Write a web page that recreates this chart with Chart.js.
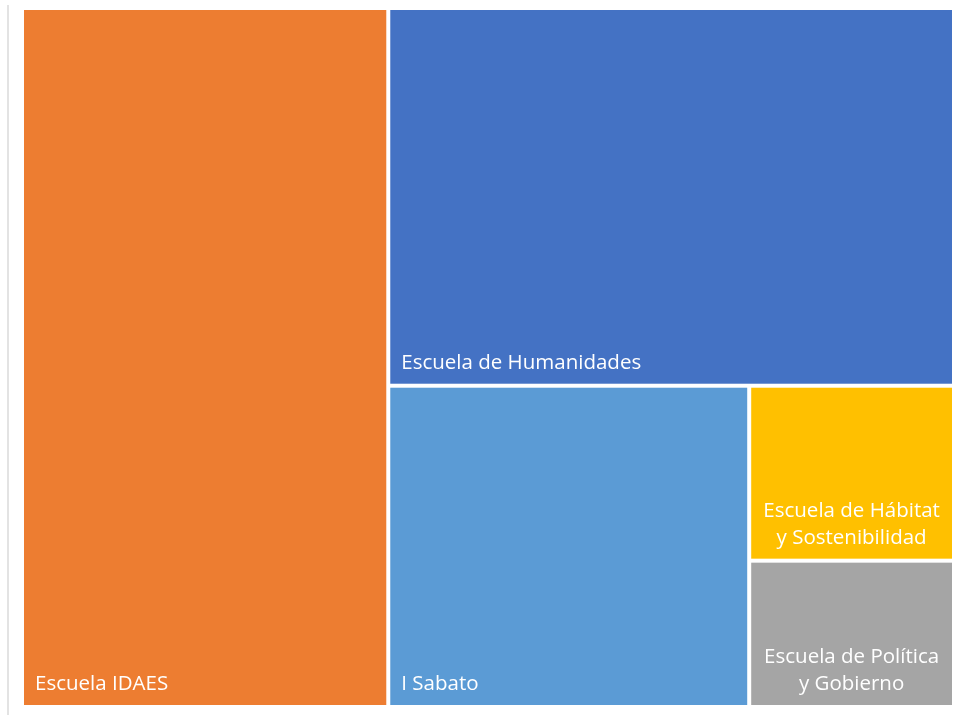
<!DOCTYPE html>
<html>
<head>
<meta charset="utf-8">
<script src="https://cdn.jsdelivr.net/npm/chart.js@4.4.1/dist/chart.umd.min.js"></script>
<style>
  html, body { margin: 0; padding: 0; background: #fff; }
  #wrap { position: relative; width: 954px; height: 715px; }
  #marco { position: absolute; left: 7px; top: 5px; bottom: 0; border-left: 2px solid #e3e3e3; }
</style>
</head>
<body>
<div id="wrap">
  <div id="marco"></div>
  <canvas id="grafic"></canvas>
</div>
<script>
// Dades del treemap (percentatge per escola)
const escoles = [
  'Escuela IDAES',
  'Escuela de Humanidades',
  'I Sabato',
  'Escuela de Hábitat y Sostenibilidad',
  'Escuela de Política y Gobierno'
];
const valors = [39.3, 32.8, 17.8, 5.5, 4.6];
const colors = ['#ED7D31', '#4472C4', '#5B9BD5', '#FFC000', '#A5A5A5'];

// Algorisme "squarified" sobre un rectangle (en píxels de l'àrea del gràfic)
function pitjor(fila, costat) {
  const suma = fila.reduce((s, r) => s + r.area, 0);
  const max = Math.max(...fila.map(r => r.area));
  const min = Math.min(...fila.map(r => r.area));
  return Math.max(costat * costat * max / (suma * suma), (suma * suma) / (costat * costat * min));
}

function squarify(items, w, h) {
  const total = items.reduce((s, r) => s + r.valor, 0);
  let resta = items.map(r => ({ ...r, area: r.valor / total * w * h }));
  let x = 0, y = 0;
  const out = [];
  while (resta.length) {
    const costat = Math.min(w, h);
    const fila = [resta[0]];
    let i = 1;
    while (i < resta.length && pitjor(fila.concat(resta[i]), costat) <= pitjor(fila, costat)) {
      fila.push(resta[i]); i++;
    }
    const suma = fila.reduce((s, r) => s + r.area, 0);
    if (w >= h) {
      const t = suma / h; let yy = y;
      fila.forEach(r => { const hh = r.area / t; out.push({ ...r, x: x, y: yy, w: t, h: hh }); yy += hh; });
      x += t; w -= t;
    } else {
      const t = suma / w; let xx = x;
      fila.forEach(r => { const ww = r.area / t; out.push({ ...r, x: xx, y: y, w: ww, h: t }); xx += ww; });
      y += t; h -= t;
    }
    resta = resta.slice(fila.length);
  }
  return out;
}

// Parteix el text en línies que càpiguen a l'amplada
function partirText(ctx, text, ampla) {
  const paraules = text.split(' ');
  const linies = [];
  let actual = '';
  paraules.forEach(p => {
    const prova = actual ? actual + ' ' + p : p;
    if (ctx.measureText(prova).width > ampla && actual) {
      linies.push(actual); actual = p;
    } else actual = prova;
  });
  if (actual) linies.push(actual);
  return linies;
}

const treemapPlugin = {
  id: 'treemap',
  afterDatasetsDraw(chart) {
    const ctx = chart.ctx;
    const area = chart.chartArea;
    const xs = chart.scales.x, ys = chart.scales.y;
    const ds = chart.data.datasets[0];
    const items = ds.etiquetes.map((e, i) => ({ nom: e, valor: ds.valors[i], color: ds.colors[i] }));
    const W = area.right - area.left, H = area.bottom - area.top;
    const rects = squarify(items, W, H);
    const gap = 2;

    ctx.save();
    rects.forEach(r => {
      // fraccions 0..1 convertides amb les escales del gràfic
      const x0 = xs.getPixelForValue(r.x / W) + gap;
      const x1 = xs.getPixelForValue((r.x + r.w) / W) - gap;
      const y0 = ys.getPixelForValue(r.y / H) + gap;
      const y1 = ys.getPixelForValue((r.y + r.h) / H) - gap;
      ctx.fillStyle = r.color;
      ctx.fillRect(x0, y0, x1 - x0, y1 - y0);

      ctx.fillStyle = '#ffffff';
      ctx.font = '20.5px "Open Sans", sans-serif';
      ctx.textBaseline = 'alphabetic';
      const pad = 11;
      const linies = partirText(ctx, r.nom, x1 - x0 - 16);
      const lh = 27;
      let base = y1 - 15 - (linies.length - 1) * lh;
      linies.forEach(l => {
        if (linies.length > 1) {
          ctx.textAlign = 'center';
          ctx.fillText(l, (x0 + x1) / 2, base);
        } else {
          ctx.textAlign = 'left';
          ctx.fillText(l, x0 + pad, base);
        }
        base += lh;
      });
    });
    ctx.restore();
  }
};

new Chart(document.getElementById('grafic'), {
  type: 'scatter',
  data: {
    datasets: [{
      data: [],
      etiquetes: escoles,
      valors: valors,
      colors: colors
    }]
  },
  options: {
    responsive: true,
    maintainAspectRatio: false,
    animation: false,
    layout: { padding: { left: 22, top: 8, right: 0, bottom: 8 } },
    plugins: { legend: { display: false }, tooltip: { enabled: false } },
    scales: {
      x: { type: 'linear', min: 0, max: 1, display: false },
      y: { type: 'linear', min: 0, max: 1, reverse: true, display: false }
    }
  },
  plugins: [treemapPlugin]
});
</script>
</body>
</html>
